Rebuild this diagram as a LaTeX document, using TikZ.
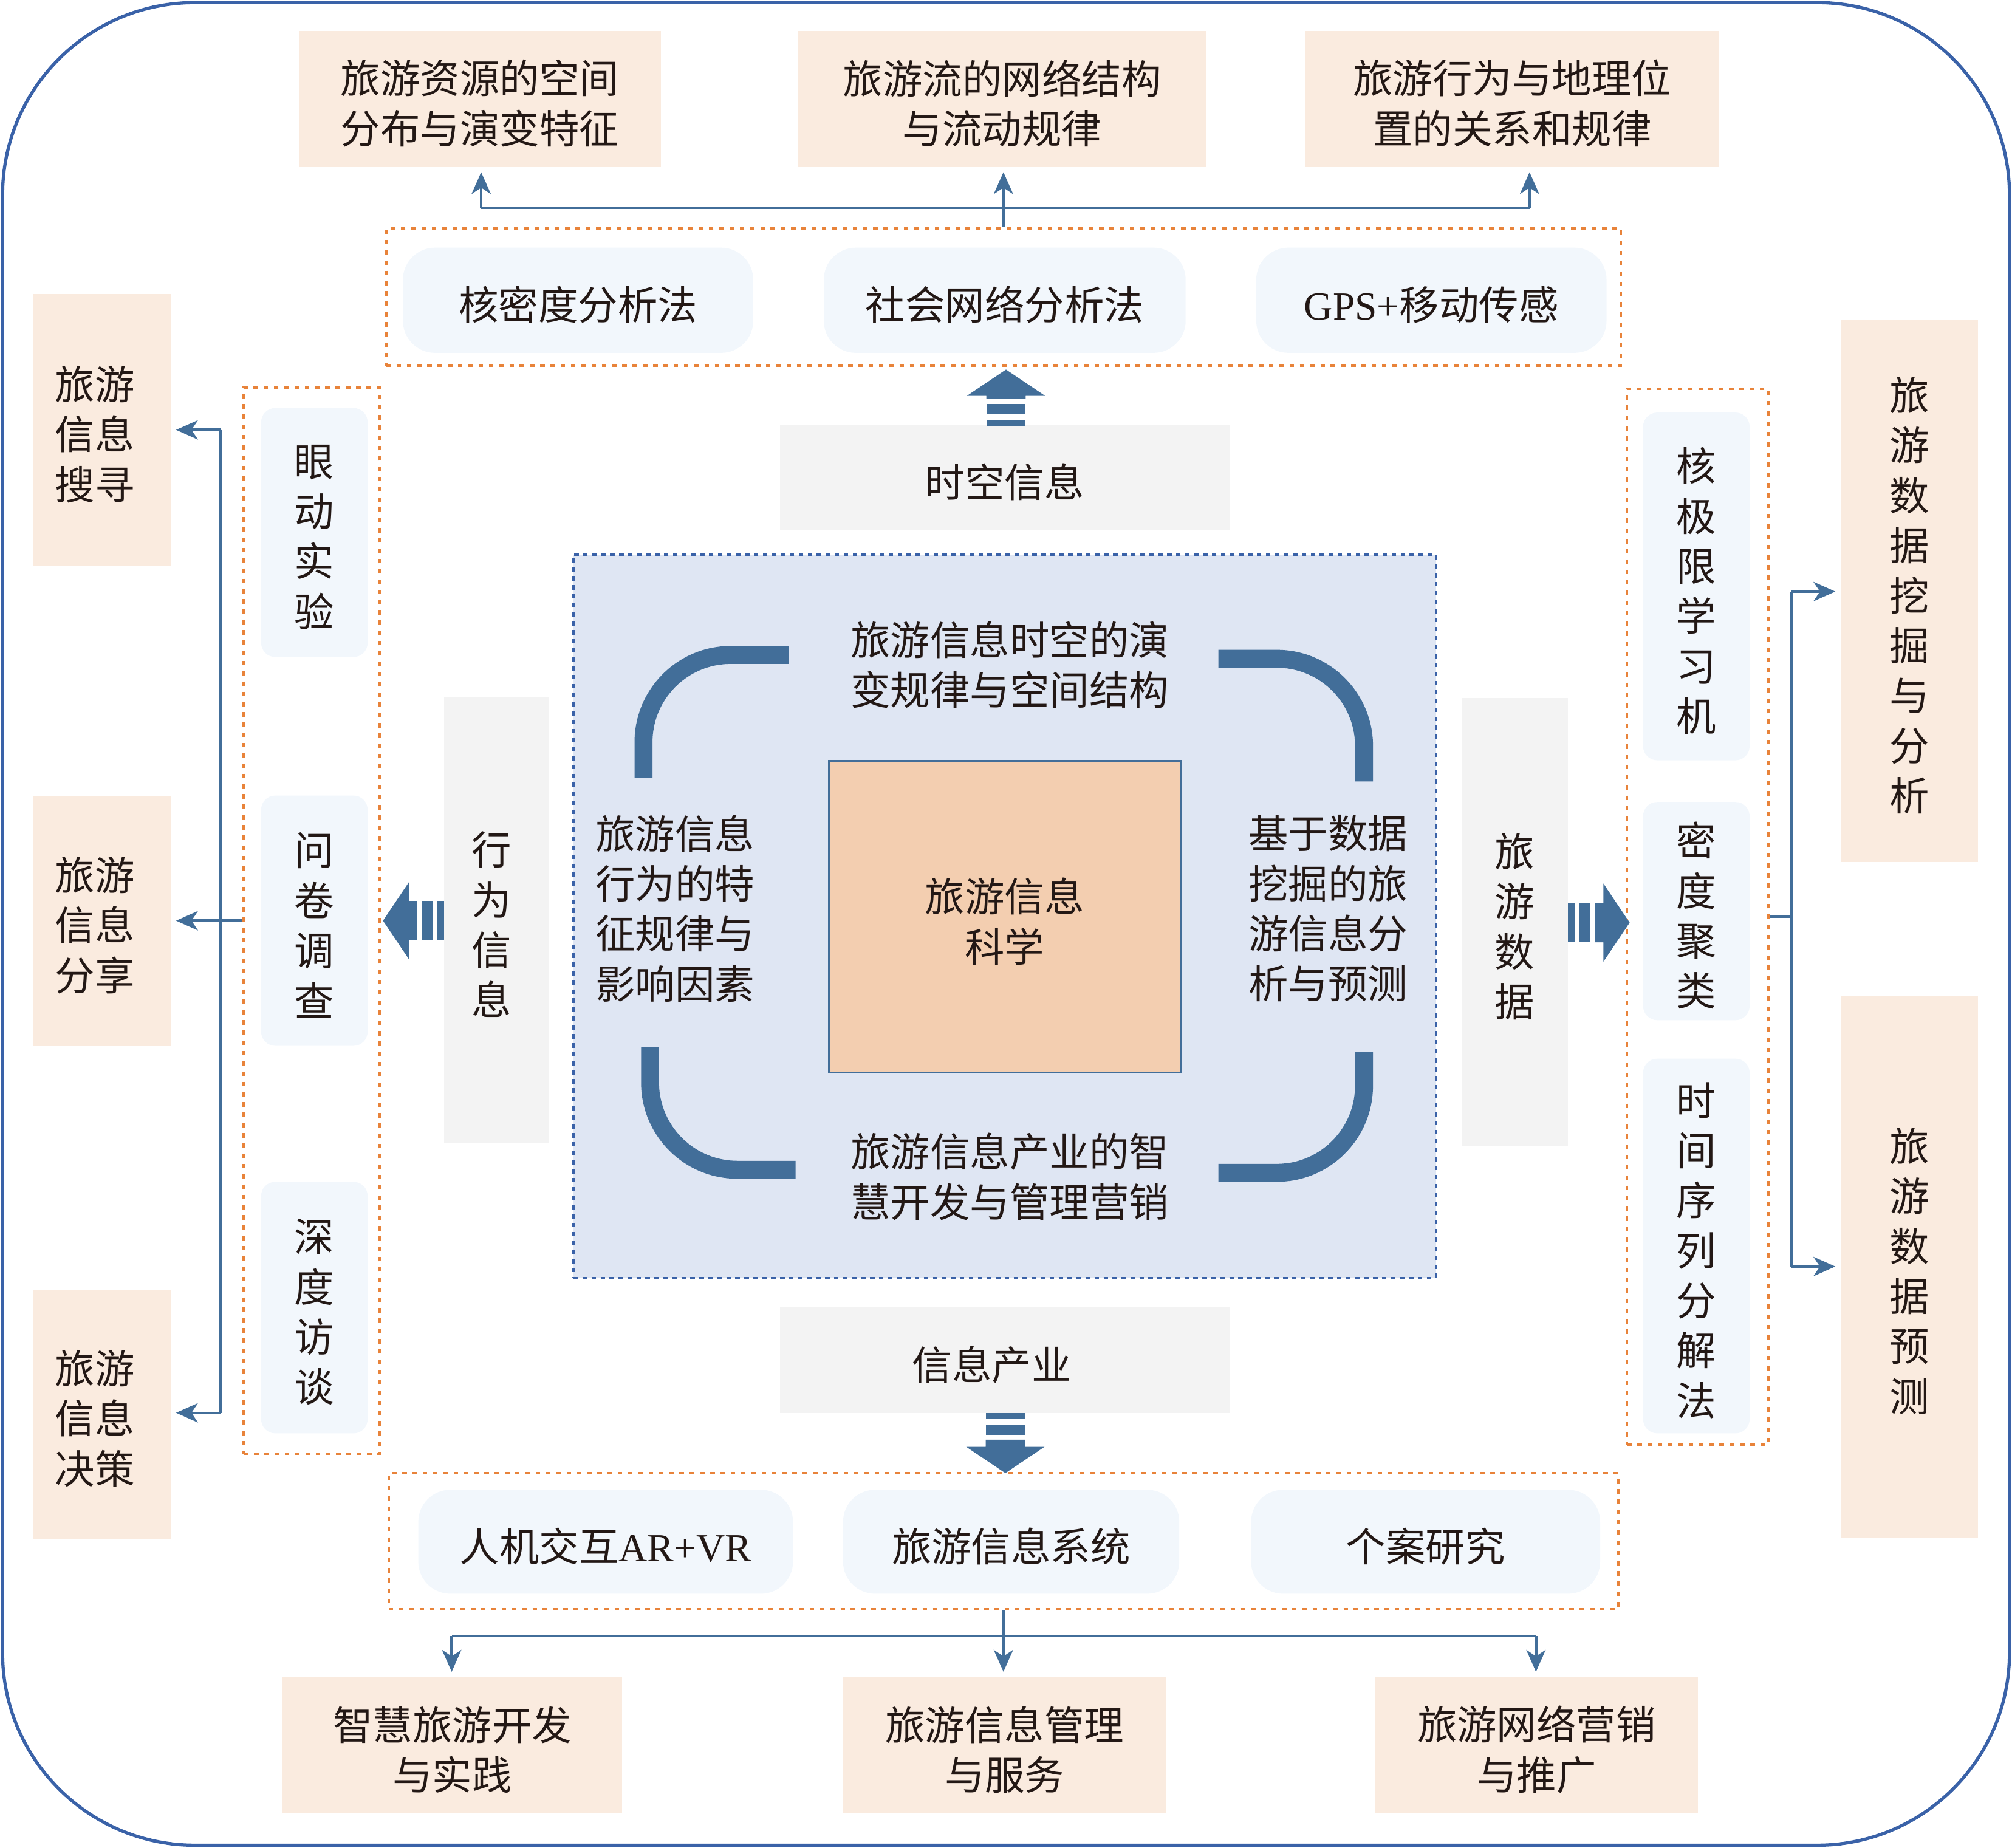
\documentclass[tikz,border=0pt]{standalone}
\usepackage{fontspec}
\setmainfont{Liberation Serif}
\newfontfamily\cjk{Noto Sans CJK SC}
\usepackage{tikz}
\usetikzlibrary{shapes, arrows.meta}

\definecolor{peach}{HTML}{FAEBDF}
\definecolor{paleblue}{HTML}{F2F7FC}
\definecolor{lgray}{HTML}{F3F3F3}
\definecolor{fieldblue}{HTML}{DFE6F3}
\definecolor{corefill}{HTML}{F3CEB0}
\definecolor{linkblue}{HTML}{426E99}
\definecolor{frameblue}{HTML}{3A62A8}
\definecolor{dashorange}{HTML}{E8833A}
\definecolor{ink}{HTML}{231815}

\tikzstyle{txt} = [font=\cjk\fontsize{31}{39}\selectfont, text=ink, align=center, inner sep=0pt]
\tikzstyle{cell} = [txt, rectangle, execute at begin node={\vbox\bgroup\vskip7pt\hbox\bgroup}, execute at end node={\egroup\egroup}]
\tikzstyle{pcell} = [cell, fill=peach]
\tikzstyle{bcell} = [cell, rounded corners=25pt, fill=paleblue]
\tikzstyle{vcell} = [cell, rounded corners=11pt, fill=paleblue, minimum width=83]
\tikzstyle{gcell} = [cell, fill=lgray]
\tikzstyle{group} = [rectangle, draw=dashorange, line width=2pt, dash pattern=on 3.5pt off 4.5pt]
\tikzstyle{field} = [rectangle, draw=frameblue, fill=fieldblue, line width=2pt, dash pattern=on 3.5pt off 3.5pt]
\tikzstyle{core} = [cell, draw=linkblue, fill=corefill, line width=1.5pt]
\tikzstyle{frame} = [draw=frameblue, line width=2.5pt, rounded corners=150pt]
\tikzstyle{line} = [draw=linkblue, line width=2pt]
\tikzstyle{link} = [line, -{Stealth[length=17pt, width=15pt, inset=5pt]}, shorten >=4pt]
\tikzstyle{bracket} = [draw=linkblue, line width=14pt, rounded corners=68pt]

% block arrow: tip position, direction, stem length
\newcommand{\fatarrow}[3]{%
  \begin{scope}[shift={#1}, rotate=#2]
    \fill[linkblue] (0,0) -- (-20.5,30.5) -- (-20.5,15.3) -- (-20.5-#3,15.3)
      -- (-20.5-#3,-15.3) -- (-20.5,-15.3) -- (-20.5,-30.5) -- cycle;
    \fill[linkblue] (-24.5-#3,-15.3) rectangle (-32.5-#3,15.3);
    \fill[linkblue] (-36.5-#3,-15.3) rectangle (-41.5-#3,15.3);
  \end{scope}}

\begin{document}
\begin{tikzpicture}[x=1pt, y=-1pt]
    \useasboundingbox (0,0) rectangle (1568,1440);
    \draw[frame] (2,2) rectangle (1566,1438);

    % top row
    \node[pcell, minimum width=282, minimum height=106] (t1) at (374,77) {旅游资源的空间\\分布与演变特征};
    \node[pcell, minimum width=318, minimum height=106] (t2) at (781,77) {旅游流的网络结构\\与流动规律};
    \node[pcell, minimum width=323, minimum height=106] (t3) at (1178.5,77) {旅游行为与地理位\\置的关系和规律};

    \node[group, minimum width=962, minimum height=107] (topgrp) at (782,231.5) {};
    \node[bcell, minimum width=273, minimum height=82] (m1) at (450.5,234) {核密度分析法};
    \node[bcell, minimum width=282, minimum height=82] (m2) at (783,234) {社会网络分析法};
    \node[bcell, minimum width=273, minimum height=82] (m3) at (1115.5,234) {{\rmfamily GPS+}移动传感};

    % bottom row
    \node[group, minimum width=958, minimum height=106] (botgrp) at (782,1201) {};
    \node[bcell, minimum width=292, minimum height=81] (n1) at (472,1201.5) {人机交互{\rmfamily AR+VR}};
    \node[bcell, minimum width=262, minimum height=81] (n2) at (788,1201.5) {旅游信息系统};
    \node[bcell, minimum width=272, minimum height=81] (n3) at (1111,1201.5) {个案研究};

    \node[pcell, minimum width=265, minimum height=106] (b1) at (352.5,1360) {智慧旅游开发\\与实践};
    \node[pcell, minimum width=252, minimum height=106] (b2) at (783,1360) {旅游信息管理\\与服务};
    \node[pcell, minimum width=251, minimum height=106] (b3) at (1197.5,1360) {旅游网络营销\\与推广};

    % left column
    \node[pcell, minimum width=107, minimum height=212, execute at end node={\hspace*{11pt}}] (l1) at (79.5,335) {旅游\\信息\\搜寻};
    \node[pcell, minimum width=107, minimum height=195, execute at end node={\hspace*{11pt}}] (l2) at (79.5,717.5) {旅游\\信息\\分享};
    \node[pcell, minimum width=107, minimum height=194, execute at end node={\hspace*{11pt}}] (l3) at (79.5,1102) {旅游\\信息\\决策};

    \node[group, minimum width=106, minimum height=831] (lgrp) at (243,717.5) {};
    \node[vcell, minimum height=194] (e1) at (245,415) {眼\\动\\实\\验};
    \node[vcell, minimum height=195] (e2) at (245,717.5) {问\\卷\\调\\查};
    \node[vcell, minimum height=196] (e3) at (245,1019) {深\\度\\访\\谈};

    % right column
    \node[group, minimum width=110, minimum height=823] (rgrp) at (1323,714.5) {};
    \node[vcell, minimum height=271] (k1) at (1322,457) {核\\极\\限\\学\\习\\机};
    \node[vcell, minimum height=170] (k2) at (1322,710) {密\\度\\聚\\类};
    \node[vcell, minimum height=292] (k3) at (1322,971) {时\\间\\序\\列\\分\\解\\法};

    \node[pcell, minimum width=107, minimum height=423] (r1) at (1488,460.5) {旅\\游\\数\\据\\挖\\掘\\与\\分\\析};
    \node[pcell, minimum width=107, minimum height=422] (r2) at (1488,987) {旅\\游\\数\\据\\预\\测};

    % centre
    \node[gcell, minimum width=350, minimum height=82] (space) at (783,372) {时空信息};
    \node[gcell, minimum width=350, minimum height=82] (indus) at (783,1060) {信息产业\hspace*{20pt}};
    \node[gcell, minimum width=82, minimum height=348, execute at end node={\hspace*{8pt}}] (behinfo) at (387,717) {行\\为\\信\\息};
    \node[gcell, minimum width=83, minimum height=349] (data) at (1180.5,718.5) {旅\\游\\数\\据};

    \node[field, minimum width=672, minimum height=564] (fld) at (783,714) {};
    \node[core, minimum width=274, minimum height=243] (core) at (783,714.5) {旅游信息\\科学};
    \node[txt] (evol) at (787,518) {旅游信息时空的演\\变规律与空间结构};
    \node[txt] (behav) at (526,708) {旅游信息\\行为的特\\征规律与\\影响因素};
    \node[txt] (mining) at (1035,708) {基于数据\\挖掘的旅\\游信息分\\析与预测};
    \node[txt] (smart) at (787,917) {旅游信息产业的智\\慧开发与管理营销};

    \draw[bracket] (614.6,510.4) -- (501.5,510.4) -- (501.5,606);
    \draw[bracket] (949.5,513.4) -- (1063,513.4) -- (1063,609);
    \draw[bracket] (506.6,816) -- (506.6,911.6) -- (620,911.6);
    \draw[bracket] (1063,819.5) -- (1063,914) -- (949.5,914);

    % block arrows
    \fatarrow{(784,288)}{90}{2.5}
    \fatarrow{(1270,719)}{0}{6.5}
    \fatarrow{(298.5,717.5)}{180}{6}
    \fatarrow{(783.5,1148)}{-90}{5.5}

    % connectors
    \coordinate (tj1) at (375,162);
    \coordinate (tj3) at (1192,162);
    \path[line] (tj1) -- (tj3);
    \path[link] (topgrp.north) -- (topgrp.north |- t2.south);
    \path[link] (tj1) -- (tj1 |- t1.south);
    \path[link] (tj3) -- (tj3 |- t3.south);

    \coordinate (bj1) at (352,1275);
    \coordinate (bj3) at (1197,1275);
    \path[line] (bj1) -- (bj3);
    \path[link] (botgrp.south) -- (botgrp.south |- b2.north);
    \path[link] (bj1) -- (bj1 |- b1.north);
    \path[link] (bj3) -- (bj3 |- b3.north);

    \coordinate (lj1) at (172,335);
    \coordinate (lj3) at (172,1101);
    \path[line] (lj1) -- (lj3);
    \path[link] (lgrp.west) -- (lgrp.west -| l2.east);
    \path[link] (lj1) -- (lj1 -| l1.east);
    \path[link] (lj3) -- (lj3 -| l3.east);

    \coordinate (rj1) at (1396,461);
    \coordinate (rj2) at (1396,987);
    \path[line] (rj1) -- (rj2);
    \path[line] (rgrp.east) -- (rgrp.east -| rj1);
    \path[link] (rj1) -- (rj1 -| r1.west);
    \path[link] (rj2) -- (rj2 -| r2.west);
\end{tikzpicture}
\end{document}
